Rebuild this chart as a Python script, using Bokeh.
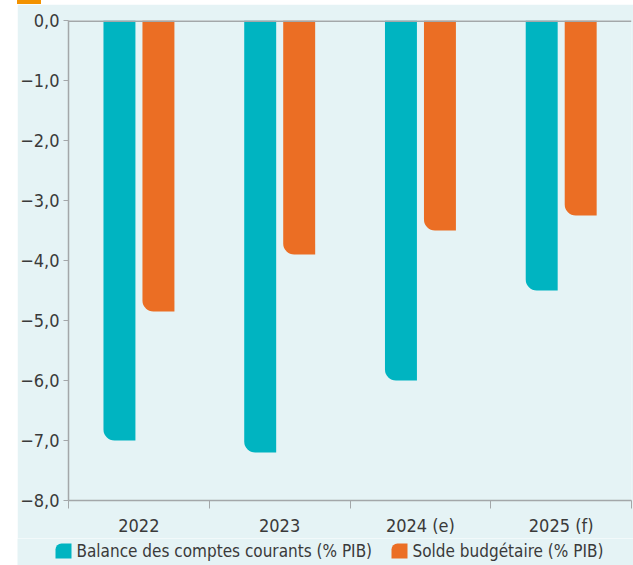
from bokeh.plotting import figure
from bokeh.models import ColumnDataSource, FixedTicker, Span, Range1d, Div
from bokeh.core.properties import value
from bokeh.layouts import column
from bokeh.embed import file_html
from bokeh.resources import INLINE

categories = ["2022", "2023", "2024 (e)", "2025 (f)"]
balance = [-7.0, -7.2, -6.0, -4.5]
solde = [-4.85, -3.9, -3.5, -3.25]
series_names = ["Balance des comptes courants (% PIB)", "Solde budgétaire (% PIB)"]
y_ticks = [0, -1, -2, -3, -4, -5, -6, -7, -8]
y_labels = ["0,0", "−1,0", "−2,0", "−3,0", "−4,0", "−5,0", "−6,0", "−7,0", "−8,0"]

TEAL = "#00b4c1"
ORANGE = "#eb6e24"
TAB = "#f39200"
BG = "#e5f3f5"
GRID = "#a3a7a9"
TXT = "#3a3a3a"
FONT = "DejaVu Sans Condensed"

n = len(categories)
pos = [i + 0.5 for i in range(n)]
src = ColumnDataSource(dict(
    xb=[p_ - 0.138 for p_ in pos], xs=[p_ + 0.139 for p_ in pos],
    balance=balance, solde=solde))

p = figure(frame_width=563, frame_height=480, output_backend="svg", toolbar_location=None,
           x_range=Range1d(0, n), y_range=Range1d(-8, 0),
           min_border_left=50, min_border_right=3, min_border_top=16, min_border_bottom=30,
           margin=(0, 0, 0, 17))
p.frame_align = False
p.border_fill_color = BG
p.background_fill_color = BG
p.outline_line_color = None
p.grid.visible = False

p.vbar(x="xb", top=0, bottom="balance", width=0.227, source=src,
       fill_color=TEAL, line_color=None, border_radius=(0, 0, 0, 11))
p.vbar(x="xs", top=0, bottom="solde", width=0.227, source=src,
       fill_color=ORANGE, line_color=None, border_radius=(0, 0, 0, 11))

p.add_layout(Span(location=0, dimension="width", line_color=GRID, line_width=3))

xa = p.xaxis[0]
xa.ticker = FixedTicker(ticks=pos, minor_ticks=list(range(n + 1)))
xa.major_label_overrides = {pos[i]: categories[i] for i in range(n)}
xa.major_tick_line_color = None
xa.minor_tick_line_color = GRID
xa.minor_tick_out = 8
xa.minor_tick_in = 0
xa.axis_line_color = GRID
xa.axis_line_width = 1.5
xa.major_label_text_font = FONT
xa.major_label_text_font_size = "18px"
xa.major_label_text_color = TXT
xa.major_label_standoff = 6

ya = p.yaxis[0]
ya.ticker = FixedTicker(ticks=y_ticks, minor_ticks=[])
ya.major_label_overrides = {y_ticks[i]: y_labels[i] for i in range(len(y_ticks))}
ya.major_tick_line_color = GRID
ya.major_tick_out = 5
ya.major_tick_in = 0
ya.axis_line_color = GRID
ya.axis_line_width = 1.5
ya.major_label_text_font = FONT
ya.major_label_text_font_size = "18px"
ya.major_label_text_color = TXT
ya.major_label_standoff = 4

# legend strip (x in px from strip left, y in px from strip bottom)
lg = figure(width=616, height=30, output_backend="svg", toolbar_location=None,
            x_range=Range1d(0, 616), y_range=Range1d(0, 30),
            x_axis_location=None, y_axis_location=None,
            min_border=0, margin=(0, 0, 0, 17))
lg.frame_align = False
lg.grid.visible = False
lg.outline_line_color = None
lg.border_fill_color = BG
lg.background_fill_color = BG
box_x = [38, 374]
lsrc = ColumnDataSource(dict(left=box_x, right=[b + 16 for b in box_x], color=[TEAL, ORANGE],
                             tx=[b + 21 for b in box_x], name=series_names))
lg.quad(left="left", right="right", bottom=10, top=25, fill_color="color", line_color=None,
        border_radius=(6, 0, 0, 0), source=lsrc)
lg.text(x="tx", y=17.5, text="name", source=lsrc, text_font=value(FONT),
        text_font_size="17px", text_color=TXT, text_baseline="middle", text_align="left")

tab = Div(width=24, height=4, styles={"background-color": TAB}, margin=(0, 0, 0, 17))
layout = column(tab, p, lg, spacing=0)

open("out.html", "w").write(file_html(layout, INLINE))
